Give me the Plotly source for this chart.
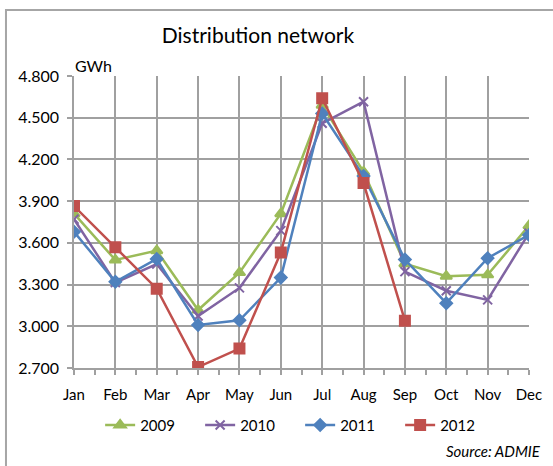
import plotly.graph_objects as go

months = ["Jan", "Feb", "Mar", "Apr", "May", "Jun", "Jul", "Aug", "Sep", "Oct", "Nov", "Dec"]
y2009 = [3810, 3477, 3544, 3117, 3386, 3810, 4590, 4110, 3450, 3360, 3370, 3724]
y2010 = [3770, 3314, 3448, 3074, 3276, 3688, 4460, 4615, 3393, 3256, 3190, 3670]
y2011 = [3680, 3320, 3484, 3010, 3043, 3350, 4530, 4080, 3480, 3166, 3490, 3657]
y2012 = [3865, 3568, 3270, 2707, 2840, 3530, 4640, 4030, 3040]

series = [
    ("2009", y2009, "#9BBB59", "triangle-up", 10),
    ("2010", y2010, "#8064A2", "x-thin", 9),
    ("2011", y2011, "#4F81BD", "diamond", 9),
    ("2012", y2012, "#C0504D", "square", 10),
]

xi = list(range(len(months)))
fig = go.Figure()
for name, vals, col, sym, sz in series:
    fig.add_trace(go.Scatter(
        x=xi[:len(vals)], y=vals, name=name, mode="lines+markers",
        line=dict(color=col, width=2.5),
        marker=dict(symbol=sym, size=sz, color=col, line=dict(color=col, width=2)),
    ))

GRID = "#a0a0a0"
fig.update_layout(
    width=553, height=466,
    margin=dict(l=74, r=24, t=76, b=98),
    paper_bgcolor="white", plot_bgcolor="white",
    separators=",.",
    font=dict(family="Lato", size=15, color="black"),
    title=dict(text="Distribution network", x=0.4665, xanchor="center", y=0.923, yanchor="middle",
               font=dict(size=21, family="Lato", color="black")),
    showlegend=True,
    legend=dict(orientation="h", x=0.497, xanchor="center", y=-0.196, yanchor="middle",
                font=dict(size=15), itemwidth=30, entrywidth=55, traceorder="normal"),
    xaxis=dict(range=[0, 11], tickvals=xi, ticktext=months, showgrid=True, gridcolor=GRID, gridwidth=1.5,
               showline=True, linecolor=GRID, linewidth=1.5, ticks="outside", ticklen=5,
               tickcolor=GRID, tickwidth=1.5, zeroline=False, tickfont=dict(size=15), ticklabelstandoff=7,
               minor=dict(ticks="outside", dtick=0.5, tick0=0, ticklen=5, tickcolor=GRID, tickwidth=1.5, showgrid=False)),
    yaxis=dict(range=[2700, 4800], dtick=300, tick0=2700, tickformat=",.0f", showgrid=True, gridcolor=GRID,
               gridwidth=1.5, showline=True, linecolor=GRID, linewidth=1.5, ticks="outside", ticklen=5,
               tickcolor=GRID, tickwidth=1.5, zeroline=False, tickfont=dict(size=16), ticklabelstandoff=5),
    shapes=[dict(type="rect", xref="paper", yref="paper", x0=-0.1495, x1=1.2, y0=-0.5, y1=1.226,
                 line=dict(color="#a6a6a6", width=2), layer="below")],
    annotations=[
        dict(text="GWh", xref="paper", yref="paper", x=-0.002, xanchor="left", y=1.036, yanchor="middle",
             showarrow=False, font=dict(size=16)),
        dict(text="<i>Source: ADMIE</i>", xref="paper", yref="paper", x=1.03, xanchor="right",
             y=-0.285, yanchor="middle", showarrow=False, font=dict(size=15)),
    ],
)
fig.write_html("out.html", config={"displayModeBar": False},
               post_script="document.body.style.margin='0px';document.body.style.overflow='hidden';")
